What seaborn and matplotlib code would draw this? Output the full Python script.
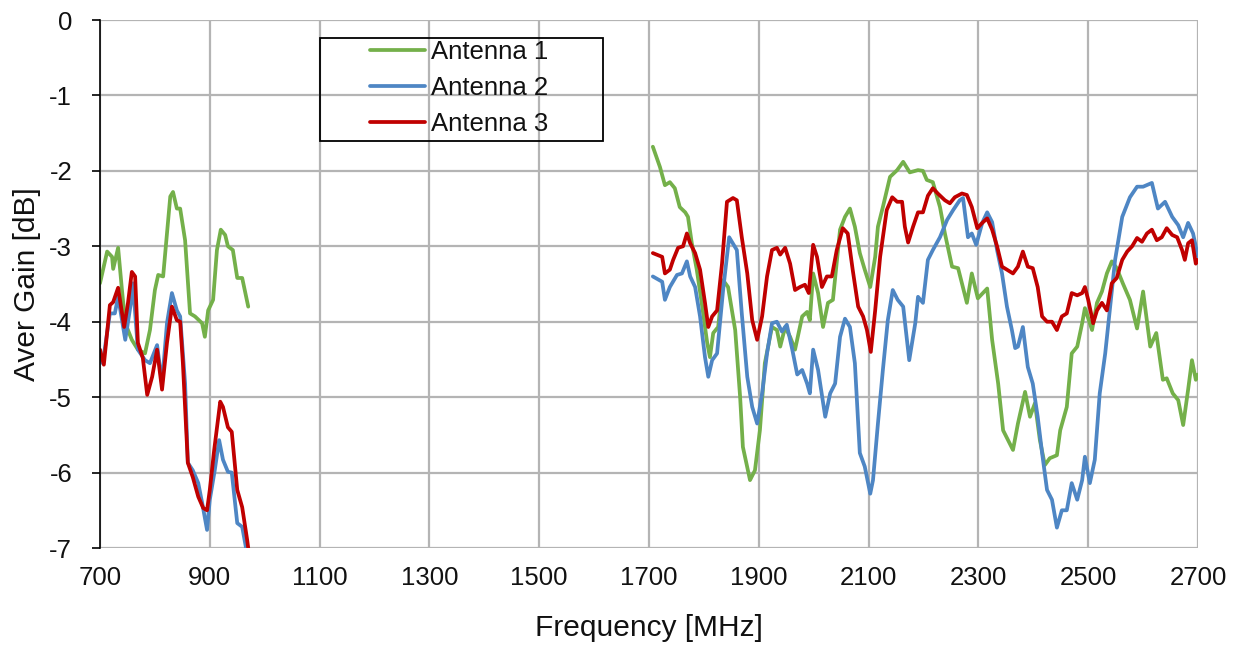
import numpy as np
import pandas as pd
import matplotlib
matplotlib.use("Agg")
import matplotlib.pyplot as plt
from matplotlib.patches import Rectangle
import seaborn as sns

# ---------------- data ----------------
series_names = ["Antenna 1", "Antenna 2", "Antenna 3"]
x_ticks = [700, 900, 1100, 1300, 1500, 1700, 1900, 2100, 2300, 2500, 2700]
y_ticks = [0, -1, -2, -3, -4, -5, -6, -7]

# Antenna 1 (green)
a1_low_f = [700, 713, 722, 724, 733, 740, 746, 758, 769, 782, 791, 800, 806, 815, 822, 828, 833,
            840, 846, 855, 864, 873, 886, 891, 897, 906, 913, 920, 928, 933, 942, 950, 959, 970]
a1_low_g = [-3.49, -3.07, -3.14, -3.30, -3.02, -3.58, -4.02, -4.24, -4.37, -4.42, -4.11, -3.58, -3.38,
            -3.40, -2.83, -2.34, -2.28, -2.50, -2.50, -2.92, -3.89, -3.93, -4.02, -4.20, -3.85, -3.71,
            -3.05, -2.78, -2.85, -3.00, -3.05, -3.42, -3.42, -3.80]
a1_high_f = [1707, 1720, 1729, 1738, 1747, 1756, 1766, 1771, 1778, 1787, 1796, 1806, 1811, 1817, 1826,
             1835, 1844, 1857, 1866, 1871, 1884, 1893, 1902, 1911, 1924, 1933, 1939, 1948, 1957, 1966,
             1979, 1988, 1993, 1999, 2008, 2017, 2026, 2035, 2048, 2057, 2066, 2075, 2084, 2093, 2103,
             2112, 2117, 2126, 2139, 2152, 2163, 2175, 2190, 2199, 2206, 2217, 2230, 2239, 2252, 2263,
             2279, 2288, 2299, 2316, 2325, 2336, 2345, 2363, 2372, 2385, 2394, 2403, 2412, 2421, 2430,
             2443, 2449, 2461, 2470, 2480, 2489, 2494, 2507, 2516, 2525, 2534, 2543, 2552, 2563, 2576,
             2589, 2600, 2613, 2624, 2636, 2643, 2654, 2664, 2673, 2682, 2689, 2696, 2700]
a1_high_g = [-1.68, -1.95, -2.19, -2.15, -2.23, -2.48, -2.55, -2.61, -2.96, -3.31, -3.75, -4.28, -4.47,
             -4.15, -4.07, -3.45, -3.54, -4.11, -5.00, -5.66, -6.10, -5.97, -5.44, -4.55, -4.07, -4.11,
             -4.33, -4.07, -4.20, -4.37, -3.93, -3.87, -3.98, -3.36, -3.62, -4.07, -3.75, -3.71, -2.78,
             -2.61, -2.50, -2.74, -3.09, -3.31, -3.54, -3.14, -2.74, -2.48, -2.08, -1.99, -1.88, -2.02,
             -1.99, -2.00, -2.12, -2.15, -2.48, -2.83, -3.27, -3.29, -3.75, -3.36, -3.69, -3.56, -4.24,
             -4.82, -5.44, -5.70, -5.35, -4.93, -5.26, -5.08, -5.57, -5.90, -5.81, -5.77, -5.44, -5.13,
             -4.42, -4.33, -4.02, -3.82, -4.11, -3.75, -3.60, -3.36, -3.20, -3.29, -3.49, -3.71, -4.09,
             -3.60, -4.33, -4.15, -4.77, -4.75, -4.95, -5.04, -5.37, -4.90, -4.51, -4.77, -4.70]

# Antenna 2 (blue)
a2_low_f = [700, 705, 718, 727, 733, 746, 758, 760, 769, 782, 791, 804, 813, 822, 831, 840, 846, 855,
            860, 869, 879, 886, 895, 900, 909, 917, 924, 933, 940, 950, 959, 966]
a2_low_g = [-4.51, -4.55, -3.89, -3.89, -3.67, -4.24, -3.67, -3.49, -4.37, -4.51, -4.55, -4.31, -4.82,
            -4.02, -3.62, -3.85, -3.93, -4.82, -5.87, -5.97, -6.14, -6.40, -6.76, -6.36, -5.97, -5.57,
            -5.83, -5.99, -6.00, -6.67, -6.72, -7.00]
a2_high_f = [1707, 1724, 1729, 1738, 1751, 1760, 1769, 1775, 1784, 1793, 1802, 1808, 1815, 1824, 1835,
             1846, 1860, 1869, 1879, 1888, 1897, 1906, 1915, 1924, 1933, 1942, 1951, 1961, 1970, 1979,
             1988, 1993, 1999, 2008, 2021, 2030, 2039, 2048, 2057, 2066, 2075, 2084, 2093, 2103, 2108,
             2117, 2126, 2135, 2144, 2153, 2163, 2174, 2185, 2190, 2199, 2208, 2217, 2230, 2243, 2254,
             2266, 2272, 2281, 2288, 2296, 2307, 2316, 2325, 2334, 2343, 2352, 2361, 2367, 2372, 2381,
             2390, 2399, 2408, 2416, 2425, 2434, 2443, 2452, 2461, 2470, 2480, 2489, 2494, 2503, 2512,
             2521, 2531, 2540, 2549, 2562, 2576, 2589, 2600, 2616, 2627, 2640, 2653, 2664, 2673, 2682,
             2691, 2700]
a2_high_g = [-3.40, -3.47, -3.71, -3.54, -3.38, -3.36, -3.20, -3.40, -3.54, -3.93, -4.47, -4.73, -4.51,
             -4.42, -3.58, -2.88, -3.05, -3.89, -4.73, -5.13, -5.35, -4.95, -4.42, -4.02, -4.00, -4.13,
             -4.04, -4.37, -4.70, -4.64, -4.82, -4.95, -4.37, -4.64, -5.26, -4.95, -4.82, -4.20, -3.96,
             -4.07, -4.55, -5.74, -5.92, -6.28, -6.10, -5.35, -4.64, -3.98, -3.58, -3.71, -3.80, -4.51,
             -4.02, -3.67, -3.75, -3.18, -3.05, -2.88, -2.65, -2.52, -2.39, -2.36, -2.88, -2.83, -2.98,
             -2.69, -2.55, -2.68, -3.05, -3.36, -3.80, -4.11, -4.35, -4.33, -4.07, -4.60, -4.82, -5.26,
             -5.74, -6.23, -6.36, -6.73, -6.50, -6.50, -6.14, -6.36, -6.10, -5.79, -6.14, -5.83, -4.95,
             -4.42, -3.80, -3.18, -2.61, -2.35, -2.21, -2.21, -2.16, -2.50, -2.41, -2.61, -2.72, -2.88,
             -2.69, -2.83, -3.14]

# Antenna 3 (red)
a3_low_f = [700, 707, 718, 724, 733, 744, 751, 758, 764, 769, 778, 786, 795, 804, 813, 822, 831, 840,
            846, 851, 860, 869, 879, 888, 895, 900, 908, 919, 924, 933, 940, 950, 959, 968, 970]
a3_low_g = [-4.37, -4.57, -3.78, -3.74, -3.55, -4.07, -3.75, -3.34, -3.40, -4.28, -4.48, -4.97, -4.73,
            -4.37, -4.90, -4.28, -3.80, -3.98, -4.00, -4.55, -5.87, -6.06, -6.32, -6.47, -6.50, -6.23,
            -5.70, -5.06, -5.13, -5.40, -5.46, -6.23, -6.46, -6.89, -7.00]
a3_high_f = [1707, 1724, 1729, 1738, 1744, 1753, 1762, 1769, 1775, 1784, 1793, 1802, 1808, 1815, 1824,
             1833, 1842, 1853, 1860, 1869, 1879, 1888, 1897, 1906, 1915, 1924, 1933, 1939, 1948, 1957,
             1966, 1975, 1984, 1991, 1999, 2006, 2015, 2024, 2033, 2042, 2053, 2062, 2071, 2081, 2090,
             2097, 2104, 2112, 2121, 2133, 2143, 2152, 2161, 2166, 2172, 2181, 2190, 2199, 2208, 2217,
             2226, 2239, 2248, 2257, 2270, 2279, 2288, 2298, 2307, 2316, 2325, 2334, 2343, 2352, 2363,
             2372, 2381, 2390, 2399, 2408, 2416, 2425, 2434, 2443, 2452, 2461, 2470, 2480, 2489, 2494,
             2500, 2509, 2516, 2525, 2534, 2543, 2552, 2562, 2571, 2580, 2589, 2598, 2607, 2616, 2625,
             2634, 2643, 2653, 2662, 2671, 2676, 2682, 2689, 2696, 2700]
a3_high_g = [-3.09, -3.14, -3.36, -3.31, -3.18, -3.02, -3.00, -2.83, -2.96, -3.09, -3.31, -3.75, -4.07,
             -3.93, -3.85, -3.23, -2.41, -2.36, -2.39, -2.88, -3.36, -3.98, -4.24, -3.93, -3.40, -3.05,
             -3.02, -3.11, -3.02, -3.23, -3.58, -3.54, -3.51, -3.62, -2.98, -3.14, -3.54, -3.40, -3.40,
             -3.05, -2.76, -2.83, -3.31, -3.80, -3.93, -4.11, -4.40, -3.85, -3.14, -2.52, -2.35, -2.41,
             -2.41, -2.74, -2.95, -2.74, -2.55, -2.55, -2.33, -2.23, -2.30, -2.39, -2.43, -2.35, -2.30,
             -2.32, -2.48, -2.76, -2.69, -2.63, -2.78, -3.00, -3.27, -3.31, -3.36, -3.27, -3.07, -3.27,
             -3.29, -3.54, -3.93, -4.00, -4.00, -4.11, -3.93, -3.89, -3.62, -3.65, -3.62, -3.54, -3.71,
             -4.02, -3.85, -3.75, -3.85, -3.49, -3.42, -3.18, -3.07, -3.00, -2.89, -2.94, -2.83, -2.78,
             -2.92, -2.88, -2.76, -2.85, -2.88, -3.05, -3.18, -2.96, -2.92, -3.23, -3.18]

# ---------------- build long table ----------------
rows = []
for name, bands in [
    ("Antenna 1", [(a1_low_f, a1_low_g), (a1_high_f, a1_high_g)]),
    ("Antenna 2", [(a2_low_f, a2_low_g), (a2_high_f, a2_high_g)]),
    ("Antenna 3", [(a3_low_f, a3_low_g), (a3_high_f, a3_high_g)]),
]:
    for bi, (fs, gs) in enumerate(bands):
        for f, g in zip(fs, gs):
            rows.append({"Frequency": f, "Gain": g, "Antenna": name, "band": bi})
df = pd.DataFrame(rows)

palette = {"Antenna 1": "#74B04A", "Antenna 2": "#4E86C4", "Antenna 3": "#C00000"}

# ---------------- style ----------------
sns.set_theme(style="white")
plt.rcParams["font.family"] = ["Liberation Sans", "DejaVu Sans"]
plt.rcParams["axes.unicode_minus"] = False

fig = plt.figure(figsize=(12.37, 6.45), dpi=100)
ax = fig.add_axes([100 / 1237, 1 - 548 / 645, 1098 / 1237, 528 / 645])

sns.lineplot(data=df, x="Frequency", y="Gain", hue="Antenna", units="band",
             estimator=None, sort=False, palette=palette, hue_order=series_names,
             linewidth=2.7, ax=ax)

ax.set_xlim(700, 2700)
ax.set_ylim(-7, 0)
ax.set_xticks(x_ticks)
ax.set_yticks(y_ticks)
ax.set_xticklabels([str(v) for v in x_ticks])
ax.set_yticklabels([str(v) for v in y_ticks])
ax.grid(True, color="#B4B4B4", linewidth=1.6)
ax.set_axisbelow(True)
for s in ["top", "right", "bottom"]:
    ax.spines[s].set_visible(False)
ax.spines["left"].set_color("black")
ax.spines["left"].set_linewidth(1.2)
ax.tick_params(axis="y", which="major", left=True, length=6, width=1.2, color="black",
               pad=14, labelsize=18.5, labelcolor="#111111")
ax.tick_params(axis="x", which="major", bottom=False, pad=7, labelsize=18.5, labelcolor="#111111")
ax.set_xlabel("Frequency [MHz]", fontsize=21.5, color="#111111", labelpad=17)
ax.set_ylabel("Aver Gain [dB]", fontsize=21.5, color="#111111", labelpad=6)

# legend (content frameless, box drawn separately)
handles, labels = ax.get_legend_handles_labels()
leg = ax.legend(handles, labels, loc="center",
                bbox_to_anchor=((459 - 100) / 1098, (548 - 88) / 528),
                frameon=False, fontsize=18.5, handlelength=2.15,
                handletextpad=0.2, labelspacing=0.48, borderpad=0.0, borderaxespad=0)
for t in leg.get_texts():
    t.set_color("#111111")
for h in leg.get_lines():
    h.set_linewidth(2.7)
ax.add_patch(Rectangle((220 / 1098, (548 - 141) / 528), 283 / 1098, 103 / 528,
                       transform=ax.transAxes, facecolor="none", edgecolor="black",
                       linewidth=1.3, zorder=6, clip_on=False))

fig.savefig("out.png", dpi=100)
